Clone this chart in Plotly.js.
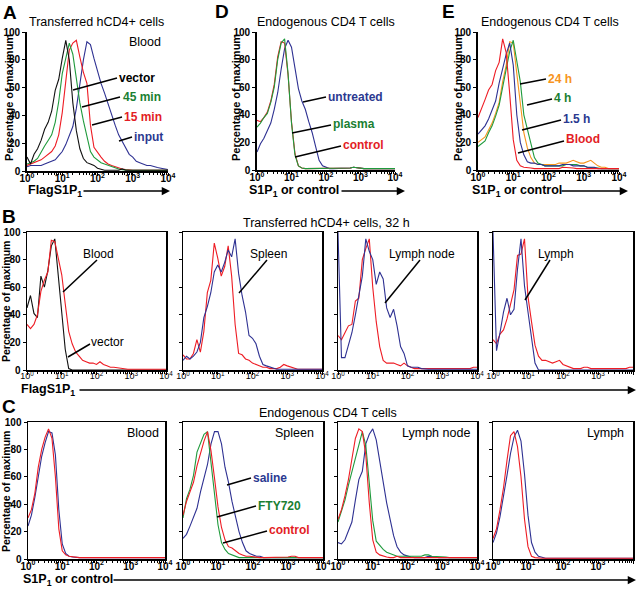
<!DOCTYPE html>
<html><head><meta charset="utf-8">
<script src="https://cdn.plot.ly/plotly-3.0.1.min.js"></script>
<style>html,body{margin:0;padding:0;background:#fff}#chart{width:640px;height:589px}</style>
</head><body><div id="chart"></div>
<script>
const FONT = '"Liberation Sans", Arial, Helvetica, sans-serif';
const W = 640, H = 589;

// histogram bin positions (log10 of fluorescence)
const LOG_EXP = [0,0.1,0.2,0.3,0.4,0.5,0.6,0.7,0.8,0.9,1,1.1,1.2,1.3,1.4,1.5,1.6,1.7,1.8,1.9,2,2.1,2.2,2.3,2.4,2.5,2.6,2.7,2.8,2.9,3,3.1,3.2,3.3,3.4,3.5,3.6,3.7,3.8,3.9,4];
const DECADE_TICKS = [1,10,100,1000,10000];
const DECADE_LABELS = ['10<sup>0</sup>','10<sup>1</sup>','10<sup>2</sup>','10<sup>3</sup>','10<sup>4</sup>'];
const PCT_TICKS = [0,20,40,60,80,100];

// Panel A – transferred hCD4+ cells, blood
const A_vector = [10,5,12,16,22,30,35,43,58,66,81, 94,80,49,29,16,9,6,5,4,2, 1,0.5,0.5,0.5,0.5,0.5,1.5,0.5,0.5,0.5, 0.5,0.5,0.5,0.5,0.5,0.5,0.5,0.5,0.5,0.5];
const A_45min = [5,6,7,9,13,18,22,26,35,50,70, 82,92,84,66,49,36,24,14,10,8, 6,5,4,3,2,1.5,1,0.5,0.5,0.5, 0.5,0.5,0.5,0.5,0.5,0.5,0.5,0.5,0.5,0.5];
const A_15min = [4,5,6,7,8,10,12,14,18,26,42, 63,87,92,94,82,71,63,33,17,13, 10,7,5,4,3,2,1.5,1,0.5,0.5, 0.5,0.5,0.5,0.5,0.5,0.5,0.5,0.5,0.5,0.5];
const A_input = [3,4,4,4,4,5,6,7,8,11,14, 19,25,32,45,62,80,93,91,81,71, 63,56,48,41,33,26,21,16,12,10, 7,6,5,4,4,3,2.5,2,1.5,1];

// Panel D – endogenous CD4 T cells
const D_untreated = [13,19,23,29,34,44,56,73,88,94,89, 74,59,50,44,35,27,17,7,3,2, 1,1,1,1,1,1,1.5,2,1.5,1, 1,1,1,1,1,1,1,1,1,1];
const D_plasma = [31,34,38,41,49,60,80,92,95,70,34, 11,3,1.5,1,1,1,1,1,1,1, 1,1,1,1,1,1,1.5,2,1.5,1, 1,1,1,1,1,1,1,1,1,1];
const D_control = [36,35,38,42,50,62,82,93,92,69,35, 12,3,1.5,1,1,1,1,1,1,1, 1,1,1,1,1,1,1.5,2,1.5,1, 1,1,1,1,1,1,1,1,1,1];

// Panel E – endogenous CD4 T cells, time course
const E_24h = [20,22,24,29,34,41,49,64,76,93,92, 70,50,27,16,9,5,4,4,4,4, 4,4,5,5,5,6,7,6,5,5, 6,7,5,3,2,2,1,1,1,1];
const E_4h = [17,19,21,27,32,39,47,60,72,86,94, 80,64,40,30,20,9,5,4,3,3, 3,3,3,3,4,4,4,4,3,3, 2,2,2,1.5,1,1,1,1,1,1];
const E_1_5h = [26,29,32,37,44,50,63,74,84,92,76, 40,20,11,6,5,5,4,4,3,3, 3,3,3,4,4,4,3,3,3,3, 2,2,2,1,1,1,1,1,1,1];
const E_blood = [38,44,51,58,62,72,78,95,85,55,22, 7,3,2,2,1.5,1,1,1,1,1, 1,1,1,2,2,2,1.5,1,1,1, 1,1,1,1,1,1,1,1,1,1];

// Panel B – transferred hCD4+ cells, 32 h
const B_blood_vector = [45,54,41,38,68,60,72,90,95,70,40, 15,1,0,0,0,0,0,0,0,0, 0,0,0,0,0,0,0,0,0,0, 0,0,0,0,0,0,0,0,0,0];
const B_blood_red = [33,30,33,40,57,65,71,94,93,81,69, 48,28,19,13,10,7,6,5,5,4, 6,4,3,2,2,1.5,1,0.5,0.5,0.5, 0.5,0.5,0.5,0.5,0.5,0.5,0.5,0.5,0.5,0.5];
const B_spleen_red = [11,8,8,12,22,13,28,56,65,92,81, 68,75,90,68,33,12,11,8,7,5, 4,3,2,2,1,1,1,2,4,3, 2,1,0.5,0.5,0.5,0.5,0.5,0.5,0.5,0.5];
const B_spleen_blue = [7,10,8,10,13,20,38,46,56,71,76, 71,78,87,82,95,70,54,42,25,23, 19,10,4,3,2,1,0.5,0.5,0.5,0.5, 0.5,0.5,0.5,0.5,0.5,0.5,0.5,0.5,0.5,0.5];
const B_node_red = [25,22,27,32,33,50,52,80,88,95,60, 35,17,7,5,5,5,4,3,5,3, 2,1,1,1,1,1,1,1,1,1, 1,1,1,1,1,1,1,1,2,2];
const B_node_blue = [100,9,9,18,27,40,54,68,95,86,80, 62,71,66,45,38,44,32,17,12,3, 2,2,2,1,0.5,0.5,0.5,0.5,0.5,0.5, 0.5,0.5,0.5,0.5,0.5,0.5,0.5,0.5,0.5,0.5];
const B_lymph_red = [22,19,26,29,37,48,58,83,84,95,53, 35,18,10,7,7,6,5,6,7,4, 3,2,1,1,1,2,2,1,1,1, 1,1,1,1,1,1,1,1,2,2];
const B_lymph_blue = [100,14,27,42,52,40,44,73,95,61,42, 22,5,0,0,0,0,0,0,0,0, 0,0,0,0,0,0,0,0,0,0, 0,0,0,0,0,0,0,0,0,0];

// Panel C – endogenous CD4 T cells
const C_blood_control = [30,36,48,67,80,89,95,88,60,22,6, 3,2,1.5,1,1,1,1,1,1,1, 1,1,1,1,1,1,1,1,1,1, 1,1,1,1,1,1,1,1,1,1];
const C_blood_saline = [24,32,45,61,75,85,93,92,76,36,11, 4,2,1.5,1,1,1,1,1,1,1, 1,1,1,1,1,1,1,1,1,1, 1,1,1,1,1,1,1,1,1,1];
const C_spleen_saline = [15,18,24,30,37,49,60,69,84,93,93, 84,67,56,42,30,20,12,6,4,3, 2,2,1,1,1,1,1,1,1,1, 1,1,1,1,1,1,1,1,1,1];
const C_spleen_fty = [30,44,51,61,78,85,91,93,69,48,25, 12,7,4,3,2,1,1,1,1,1, 1,1,1,1,1,1,1,1,1,1, 1,1,1,1,1,1,1,1,1,1];
const C_spleen_control = [32,42,49,56,68,78,86,93,79,59,38, 23,14,9,8,6,4,3,2,2,1.5, 1,1,1,1,1,1,1,1,1,1.5, 2,2,1,1,1,1,1,1,1,1];
const C_node_saline = [12,11,14,21,27,43,58,64,84,91,95, 87,71,56,41,29,17,9,5,3,2, 1.5,1,1,1,1,2,2,1.5,1,1, 1,1,1,1,1,1,1,1,1,1];
const C_node_fty = [27,35,43,54,64,75,84,93,83,56,28, 13,10,7,5,4,3,2,2,2,2, 2,2,2,2,3,3,2,2,2,2, 1.5,1,1,1,1,1,1,1,1,1];
const C_node_control = [29,36,46,58,73,88,95,93,76,41,14, 5,3,2,1.5,1,1,2,1,1,1, 1,1,1,1,1,1,1,1,1,1, 1,1,1,1,1,1,1,1,1,1];
const C_lymph_saline = [12,19,31,45,61,77,89,94,86,62,32, 12,5,2,1,0.5,0.5,0.5,0.5,0.5,0.5, 0.5,0.5,0.5,0.5,0.5,0.5,0.5,0.5,0.5,0.5, 0.5,0.5,0.5,0.5,0.5,0.5,0.5,0.5,0.5,0.5];
const C_lymph_control = [15,22,36,52,72,90,93,82,60,29,9, 2,1,0.5,0.5,0.5,0.5,0.5,0.5,0.5,0.5, 0.5,0.5,0.5,0.5,0.5,0.5,0.5,0.5,0.5,0.5, 0.5,0.5,0.5,0.5,0.5,0.5,0.5,0.5,0.5,0.5];

// ---------- styling ----------
const COL = {black:'#111111', red:'#ee1c24', green:'#1f9a3c', blue:'#2e3192', orange:'#f7941d'};
const TXT = {black:'#000000', red:'#e31d25', green:'#1a7f32', blue:'#2b3990', orange:'#f7941d'};

const FL = LOG_EXP.map(e => Math.pow(10, e));
const MINOR_TICKS = [];
for (let d = 0; d < 4; d++) for (let m = 2; m <= 9; m++) MINOR_TICKS.push(m * Math.pow(10, d));

// panel geometry in pixels: [left, right], [top, bottom]
const panels = [
  {x:[27,168], y:[32,171], box:false, ylab:true, bold:true, tsize:10, series:[[A_input,'blue'],[A_15min,'red'],[A_45min,'green'],[A_vector,'black']]},
  {x:[257,395], y:[32,170], box:false, ylab:true, bold:true, tsize:10, series:[[D_untreated,'blue'],[D_control,'red'],[D_plasma,'green']]},
  {x:[478,619], y:[32,170], box:false, ylab:true, bold:true, tsize:10, series:[[E_24h,'orange'],[E_4h,'green'],[E_1_5h,'blue'],[E_blood,'red']]},
  {x:[27,166], y:[232,370], box:true, ylab:true, bold:false, tsize:9, series:[[B_blood_vector,'black'],[B_blood_red,'red']]},
  {x:[183,322], y:[232,370], box:true, ylab:false, bold:false, tsize:9, series:[[B_spleen_red,'red'],[B_spleen_blue,'blue']]},
  {x:[338,477], y:[232,370], box:true, ylab:false, bold:false, tsize:9, series:[[B_node_red,'red'],[B_node_blue,'blue']]},
  {x:[493,633], y:[232,370], box:true, ylab:false, bold:false, tsize:9, series:[[B_lymph_red,'red'],[B_lymph_blue,'blue']]},
  {x:[28,165], y:[422,559], box:true, ylab:true, bold:true, tsize:10, series:[[C_blood_saline,'blue'],[C_blood_control,'red']]},
  {x:[183,323], y:[422,559], box:true, ylab:false, bold:true, tsize:10, series:[[C_spleen_saline,'blue'],[C_spleen_fty,'green'],[C_spleen_control,'red']]},
  {x:[338,477], y:[422,559], box:true, ylab:false, bold:true, tsize:10, series:[[C_node_saline,'blue'],[C_node_fty,'green'],[C_node_control,'red']]},
  {x:[493,633], y:[422,559], box:true, ylab:false, bold:true, tsize:10, series:[[C_lymph_saline,'blue'],[C_lymph_control,'red']]}
];

const traces = [];
const layout = {
  width: W, height: H, margin:{l:0,r:0,t:0,b:0,pad:0}, autosize:false,
  paper_bgcolor:'#ffffff', plot_bgcolor:'rgba(0,0,0,0)', showlegend:false,
  annotations:[], shapes:[]
};

panels.forEach((p, i) => {
  const n = i === 0 ? '' : String(i + 1);
  p.series.forEach(([arr, c]) => {
    if (arr.length !== LOG_EXP.length) throw new Error('bad length ' + arr.length + ' in panel ' + i);
    traces.push({x: FL, y: arr, xaxis:'x' + n, yaxis:'y' + n, type:'scatter', mode:'lines',
      line:{color: COL[c], width:1.1}, hoverinfo:'skip', showlegend:false});
  });
  const lw = p.box ? 1.5 : 1.8;
  layout['xaxis' + n] = {
    domain:[p.x[0] / W, p.x[1] / W], anchor:'y' + n, type:'log', range:[0, 4],
    tickmode:'array', tickvals: DECADE_TICKS, ticktext: DECADE_LABELS,
    ticks:'outside', ticklen:3, tickwidth:1, tickcolor:'#000', ticklabelstandoff:-6,
    minor:{tickmode:'array', tickvals: MINOR_TICKS, ticks:'outside', ticklen:2, tickwidth:1, tickcolor:'#000'},
    showline:true, linecolor:'#000', linewidth: lw, mirror: p.box,
    showgrid:false, zeroline:false, fixedrange:true,
    tickfont:{family: FONT, size: p.tsize, color:'#000', weight: p.bold ? 700 : 400}
  };
  layout['yaxis' + n] = {
    domain:[1 - p.y[1] / H, 1 - p.y[0] / H], anchor:'x' + n, range:[0, 100],
    tickmode:'array', tickvals: PCT_TICKS, ticks:'outside', ticklen:3, tickwidth:1, tickcolor:'#000',
    showticklabels: p.ylab, showline:true, linecolor:'#000', linewidth: lw, mirror: p.box,
    showgrid:false, zeroline:false, fixedrange:true,
    tickfont:{family: FONT, size:10, color:'#000', weight:700}
  };
});

function label(text, x, y, o) {
  o = o || {};
  layout.annotations.push({xref:'paper', yref:'paper', x: x / W, y: 1 - y / H, text: text,
    showarrow:false, xanchor: o.anchor || 'left', yanchor:'middle', textangle: o.angle || 0,
    borderpad:0,
    font:{family: FONT, size: o.size || 12, color: o.color || '#000', weight: o.bold ? 700 : 400}});
}
function callout(x0, y0, x1, y1) {
  layout.shapes.push({type:'line', xref:'paper', yref:'paper', x0: x0 / W, y0: 1 - y0 / H,
    x1: x1 / W, y1: 1 - y1 / H, line:{color:'#000', width:1.5}});
}
function axisArrow(x0, x1, y) {
  layout.annotations.push({xref:'paper', yref:'paper', x: x1 / W, y: 1 - y / H, ax: x0 - x1, ay: 0,
    axref:'pixel', ayref:'pixel', text:'', showarrow:true, arrowhead:2, arrowsize:1.1,
    arrowwidth:1.5, arrowcolor:'#000', standoff:0, startstandoff:0});
}

// panel letters
label('A', 2, 13, {size:19, bold:true});
label('D', 214, 12, {size:19, bold:true});
label('E', 441, 12, {size:19, bold:true});
label('B', 1, 216, {size:19, bold:true});
label('C', 1, 406, {size:19, bold:true});

// titles
label('Transferred hCD4+ cells', 96, 22, {anchor:'center', size:12.5});
label('Endogenous CD4 T cells', 326, 22, {anchor:'center', size:12.5});
label('Endogenous CD4 T cells', 550, 22, {anchor:'center', size:12.5});
label('Transferred hCD4+ cells, 32 h', 326, 223, {anchor:'center', size:12.5});
label('Endogenous CD4 T cells', 328, 413, {anchor:'center', size:12.5});

// y titles
label('Percentage of maximum', 9, 98, {anchor:'center', angle:-90, size:11, bold:true});
label('Percentage of maximum', 236, 98, {anchor:'center', angle:-90, size:11, bold:true});
label('Percentage of maximum', 458, 98, {anchor:'center', angle:-90, size:11, bold:true});
label('Percentage of maximum', 6, 302, {anchor:'center', angle:-90, size:10.5, bold:true});
label('Percentage of maximum', 6, 492, {anchor:'center', angle:-90, size:10.5, bold:true});

// x titles with arrows
label('FlagS1P<sub>1</sub>', 27, 191, {size:12.5, bold:true});
axisArrow(82, 170, 191);
label('S1P<sub>1</sub> or control', 248, 191, {size:12.5, bold:true});
axisArrow(340, 405, 191);
label('S1P<sub>1</sub> or control', 471, 191, {size:12.5, bold:true});
axisArrow(560, 628, 191);
label('FlagS1P<sub>1</sub>', 20, 390, {size:12.5, bold:true});
axisArrow(78, 636, 390);
label('S1P<sub>1</sub> or control', 22, 580, {size:12.5, bold:true});
axisArrow(112, 636, 580);

// panel A labels
label('Blood', 128, 42, {size:12.5});
label('vector', 118, 78, {bold:true, color:TXT.black});
label('45 min', 122, 97, {bold:true, color:TXT.green});
label('15 min', 123, 117, {bold:true, color:TXT.red});
label('input', 133, 137, {bold:true, color:TXT.blue});
callout(117, 78, 73, 90); callout(120, 97, 82, 107); callout(122, 117, 92, 125); callout(132, 137, 119, 141);

// panel D labels
label('untreated', 327, 97, {bold:true, color:TXT.blue});
label('plasma', 332, 124, {bold:true, color:TXT.green});
label('control', 342, 145, {bold:true, color:TXT.red});
callout(326, 97, 303, 102); callout(331, 125, 292, 133); callout(341, 146, 295, 157);

// panel E labels
label('24 h', 547, 79, {bold:true, color:TXT.orange});
label('4 h', 553, 98, {bold:true, color:TXT.green});
label('1.5 h', 562, 119, {bold:true, color:TXT.blue});
label('Blood', 565, 139, {bold:true, color:TXT.red});
callout(546, 79, 520, 84); callout(552, 99, 527, 105); callout(561, 120, 522, 130); callout(564, 141, 518, 153);

// panel B labels
label('Blood', 82, 254); label('vector', 90, 342);
label('Spleen', 249, 254); label('Lymph node', 388, 254); label('Lymph', 537, 254);
callout(97, 260, 63, 292); callout(90, 344, 68, 357); callout(267, 260, 239, 293);
callout(420, 260, 385, 303); callout(550, 260, 525, 300);

// panel C labels
label('Blood', 126, 433, {size:12.5}); label('Spleen', 274, 433, {size:12.5});
label('Lymph node', 401, 433, {size:12.5}); label('Lymph', 586, 433, {size:12.5});
label('saline', 252, 478, {bold:true, color:TXT.blue});
label('FTY720', 257, 506, {bold:true, color:TXT.green});
label('control', 268, 530, {bold:true, color:TXT.red});
callout(251, 478, 227, 485); callout(256, 506, 217, 517); callout(267, 531, 223, 543);

Plotly.newPlot('chart', traces, layout, {staticPlot:true, displayModeBar:false});
</script>
</body></html>
